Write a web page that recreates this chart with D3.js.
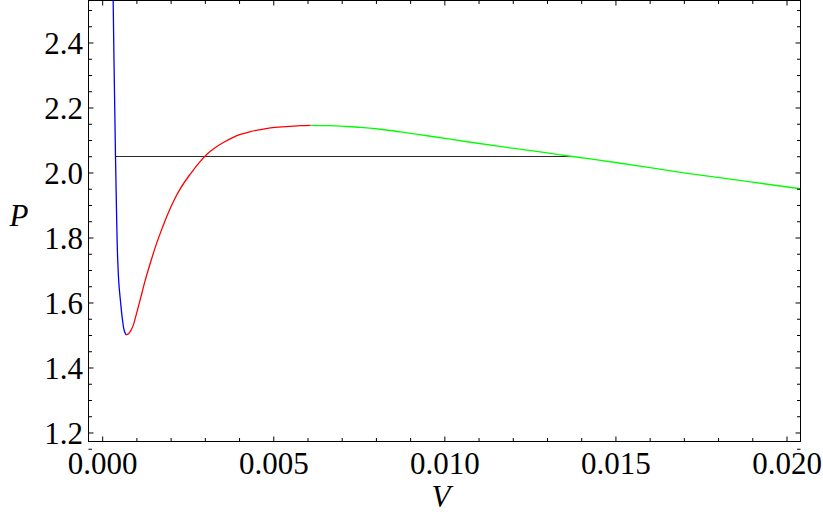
<!DOCTYPE html>
<html><head><meta charset="utf-8">
<script src="https://cdn.jsdelivr.net/npm/d3@7"></script>
<style>
html,body{margin:0;padding:0;background:#fff;}
svg{display:block;}
text{font-family:"Liberation Serif","Times New Roman",serif;}
</style></head>
<body>
<svg id="c" width="823" height="525"></svg>
<script>
// ---- data ----
const blueV = [0.000312,0.000321,0.000345,0.000368,0.000389,0.000397,0.000424,0.000456,0.000491,0.000535,0.000593,0.000652,0.000701];
const blueP = [2.60,2.529,2.345,2.191,2.049,2.006,1.852,1.725,1.654,1.604,1.547,1.511,1.500];
const redV = [0.000701,0.000769,0.000827,0.000915,0.001003,0.001119,0.001265,0.001412,0.001558,0.001704,0.0019,0.002093,0.002288,0.002581,0.002873,0.003069,0.003311,0.003554,0.003846,0.004042,0.004334,0.004627,0.004919,0.005357,0.005796,0.006088];
const redP = [1.500,1.504,1.512,1.532,1.566,1.612,1.671,1.723,1.772,1.815,1.868,1.913,1.951,1.996,2.035,2.057,2.077,2.093,2.109,2.117,2.126,2.132,2.137,2.141,2.144,2.145];
const greenV = [0.006088,0.006673,0.007061,0.007549,0.008134,0.008718,0.009692,0.010764,0.011837,0.012907,0.013687,0.015052,0.016998,0.018948,0.020409];
const greenP = [2.145,2.144,2.142,2.139,2.133,2.125,2.110,2.093,2.077,2.062,2.050,2.030,1.999,1.971,1.950];
const tieV = [0.000389,0.013687];
const tieP = [2.049,2.049];
const xTicks = [0,0.005,0.010,0.015,0.020];
const xTickLabels = ["0.000","0.005","0.010","0.015","0.020"];
const yTicks = [1.2,1.4,1.6,1.8,2.0,2.2,2.4];
const yTickLabels = ["1.2","1.4","1.6","1.8","2.0","2.2","2.4"];
const xMinor = d3.range(0,21).map(i=>i*0.001).filter(v=>!xTicks.some(t=>Math.abs(t-v)<1e-9));
const yMinor = d3.range(0,30).map(i=>+(1.15+i*0.05).toFixed(2)).filter(v=>!yTicks.some(t=>Math.abs(t-v)<1e-9));

// ---- layout ----
const L=88.5, R=800.5, T=0.5, B=441.5;
const x = d3.scaleLinear().domain([-0.0004,0.020409]).range([L,R]);
const y = d3.scaleLinear().domain([1.1723,2.5292]).range([B,T]);
const svg = d3.select("#c");

svg.append("defs").append("clipPath").attr("id","pc")
  .append("rect").attr("x",L).attr("y",T).attr("width",R-L).attr("height",B-T);

function zip(a,b){return a.map((v,i)=>[v,b[i]]);}
const mk = c => d3.line().x(d=>x(d[0])).y(d=>y(d[1])).curve(c);
const g = svg.append("g").attr("clip-path","url(#pc)");
g.append("path").attr("d",mk(d3.curveLinear)(zip(tieV,tieP))).attr("fill","none").attr("stroke","#2a2a2a").attr("stroke-width",1.1);
g.append("path").attr("d",mk(d3.curveMonotoneX)(zip(greenV,greenP))).attr("fill","none").attr("stroke","#00ff00").attr("stroke-width",1.3);
g.append("path").attr("d",mk(d3.curveMonotoneX)(zip(redV,redP))).attr("fill","none").attr("stroke","#ff0000").attr("stroke-width",1.3);
g.append("path").attr("d",mk(d3.curveMonotoneY)(zip(blueV,blueP).reverse())).attr("fill","none").attr("stroke","#0000ff").attr("stroke-width",1.3);

// ---- axes (ticks inside, all four sides) ----
function styleAxis(sel){sel.select(".domain").remove();sel.selectAll("line").attr("stroke","#000").attr("stroke-width",1);}
const fs = 31;
const ax = svg.append("g").attr("transform",`translate(0,${B})`)
  .call(d3.axisBottom(x).tickValues(xTicks).tickSize(-5).tickFormat((d,i)=>xTickLabels[i]));
styleAxis(ax);
ax.selectAll("text").attr("font-size",fs).attr("fill","#000").attr("dy","0").attr("y",32);
svg.append("g").attr("transform",`translate(0,${B})`).call(d3.axisBottom(x).tickValues(xMinor).tickSize(-3.5).tickFormat("")).call(styleAxis);
svg.append("g").attr("transform",`translate(0,${T})`).call(d3.axisTop(x).tickValues(xTicks).tickSize(-5).tickFormat("")).call(styleAxis);
svg.append("g").attr("transform",`translate(0,${T})`).call(d3.axisTop(x).tickValues(xMinor).tickSize(-3.5).tickFormat("")).call(styleAxis);

const ay = svg.append("g").attr("transform",`translate(${L},0)`)
  .call(d3.axisLeft(y).tickValues(yTicks).tickSize(-5).tickFormat((d,i)=>yTickLabels[i]));
styleAxis(ay);
ay.selectAll("text").attr("font-size",fs).attr("fill","#000").attr("x",-5.5).attr("dy","0.34em");
svg.append("g").attr("transform",`translate(${L},0)`).call(d3.axisLeft(y).tickValues(yMinor).tickSize(-3.5).tickFormat("")).call(styleAxis);
svg.append("g").attr("transform",`translate(${R},0)`).call(d3.axisRight(y).tickValues(yTicks).tickSize(-5).tickFormat("")).call(styleAxis);
svg.append("g").attr("transform",`translate(${R},0)`).call(d3.axisRight(y).tickValues(yMinor).tickSize(-3.5).tickFormat("")).call(styleAxis);

svg.append("rect").attr("x",L).attr("y",T).attr("width",R-L).attr("height",B-T)
  .attr("fill","none").attr("stroke","#000").attr("stroke-width",1);

svg.append("text").attr("x",441).attr("y",507).attr("text-anchor","middle")
  .attr("font-size",fs).attr("font-style","italic").text("V");
svg.append("text").attr("x",19).attr("y",226).attr("text-anchor","middle")
  .attr("font-size",fs).attr("font-style","italic").text("P");
</script>
</body></html>
